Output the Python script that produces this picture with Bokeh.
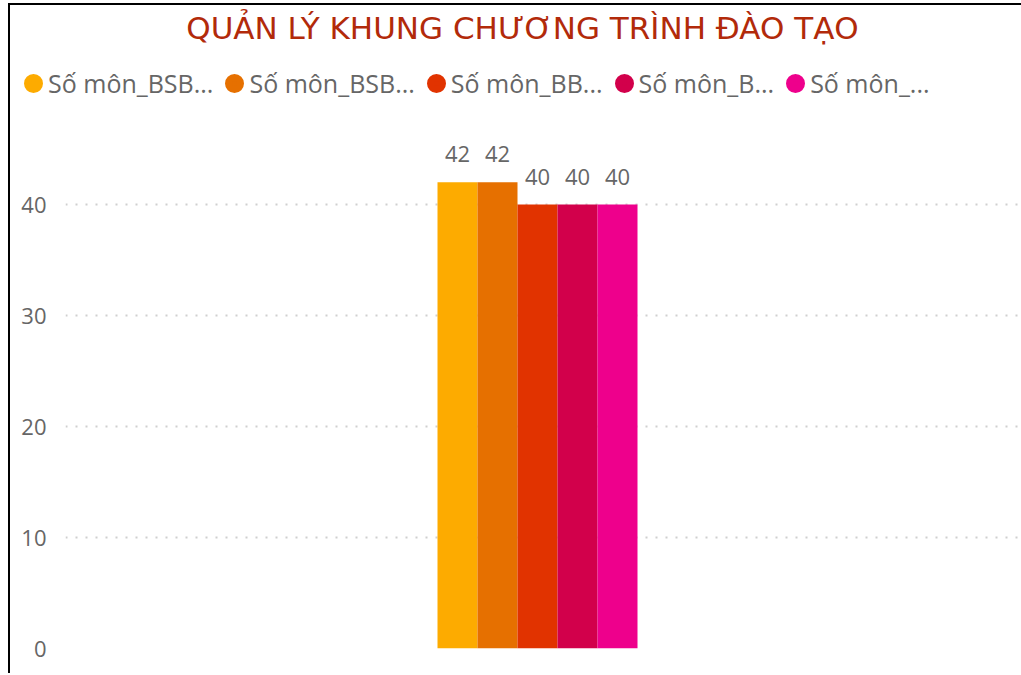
from bokeh.plotting import figure
from bokeh.layouts import column
from bokeh.models import Range1d, FixedTicker, Label, Legend, LegendItem, ColumnDataSource
from bokeh.core.properties import value
from bokeh.embed import file_html
from bokeh.resources import INLINE

title_text = "QUẢN LÝ KHUNG CHƯƠNG TRÌNH ĐÀO TẠO"
series = ["Số môn_BSB...", "Số môn_BSB...", "Số môn_BB...", "Số môn_B...", "Số môn_..."]
values = [42, 42, 40, 40, 40]
colors = ["#FDAB00", "#E67000", "#E13300", "#D2004B", "#EE008C"]
y_ticks = [0, 10, 20, 30, 40]

W = 1011
H1 = 104          # header (title + legend)
H2 = 668 - H1     # chart
FB = 539          # frame bottom inside chart figure
LEFT = 55

# ---------- header: title + legend ----------
hdr = figure(width=W, height=H1, output_backend="svg", toolbar_location=None,
             x_range=Range1d(0, 1), y_range=Range1d(0, 1),
             min_border_left=0, min_border_right=0, min_border_top=0, min_border_bottom=0)
hdr.frame_align = False
hdr.axis.visible = False
hdr.grid.visible = False
hdr.outline_line_color = None

nan = float("nan")
items = []
for name, c in zip(series, colors):
    r = hdr.scatter(x=[nan], y=[nan], marker="circle", size=12,
                    fill_color=c, line_color=c, line_width=7)
    items.append(LegendItem(label=name, renderers=[r]))
legend = Legend(items=items, orientation="horizontal", location=(8, 9),
                glyph_width=30, glyph_height=30, label_standoff=0, spacing=6,
                padding=0, margin=0, border_line_color=None, background_fill_alpha=0,
                label_text_font="Open Sans", label_text_font_size="25px",
                label_text_color="#666666")
hdr.add_layout(legend, "center")

hdr.add_layout(Label(x=512, y=H1 - 22, x_units="screen", y_units="screen", text=title_text,
                     text_align="center", text_baseline="alphabetic",
                     text_font="DejaVu Sans", text_font_size="31px", text_color="#B22A0A"))

# ---------- chart ----------
p = figure(width=W, height=H2, output_backend="svg", toolbar_location=None,
           x_range=Range1d(-9.8, -9.8 + (W - LEFT) / 40.0),
           y_range=Range1d(0, FB / 11.1),
           min_border_left=LEFT, min_border_right=0, min_border_top=0, min_border_bottom=H2 - FB)
p.frame_align = False
p.outline_line_color = None
p.xaxis.visible = False
p.xgrid.visible = False

yax = p.yaxis[0]
yax.ticker = FixedTicker(ticks=y_ticks)
yax.axis_line_color = None
yax.major_tick_line_color = None
yax.minor_tick_line_color = None
yax.major_tick_out = 0
yax.major_label_standoff = 19
yax.major_label_text_font = "Open Sans"
yax.major_label_text_font_size = "22px"
yax.major_label_text_color = "#666666"

p.ygrid.ticker = FixedTicker(ticks=y_ticks)
p.ygrid.grid_line_color = "#cfcfcf"
p.ygrid.grid_line_width = 2
p.ygrid.grid_line_dash = "2 8"

xs = list(range(len(series)))
src = ColumnDataSource(dict(x=xs, top=values, color=colors, lbl=[str(v) for v in values]))
p.vbar(x="x", top="top", bottom=0, width=1.0, fill_color="color", line_color=None, source=src)
p.text(x="x", y="top", text="lbl", source=src, text_align="center", text_baseline="alphabetic",
       y_offset=-28, text_font=value("Open Sans"), text_font_size="22px", text_color="#666666")

lay = column(hdr, p, spacing=0)
lay.styles = {"border-left": "2px solid black", "border-top": "2px solid black",
              "margin-left": "8px", "margin-top": "3px"}

open("out.html", "w").write(file_html(lay, INLINE))
